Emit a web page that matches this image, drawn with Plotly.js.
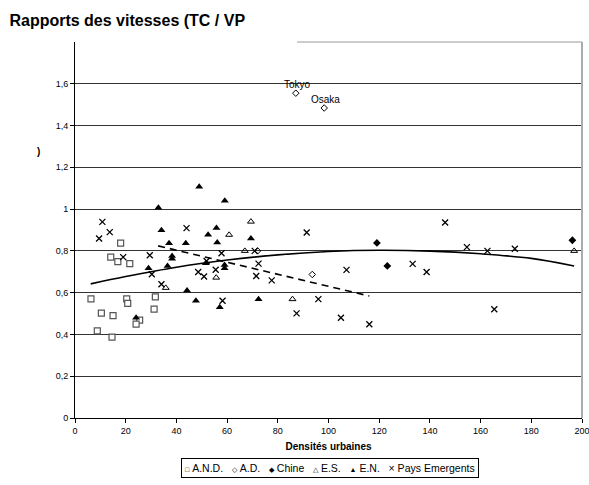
<!DOCTYPE html>
<html><head><meta charset="utf-8">
<script src="https://cdn.plot.ly/plotly-3.0.1.min.js"></script>
<style>html,body{margin:0;padding:0;background:#fff}#chart{width:589px;height:485px}</style>
</head><body><div id="chart"></div>
<script>
// A.N.D.
const andX = [6.3, 10.4, 8.8, 15.0, 14.6, 20.4, 20.8, 25.5, 24.1, 31.7, 31.2, 18.0, 14.1, 16.9, 21.6];
const andY = [0.570, 0.502, 0.417, 0.490, 0.387, 0.570, 0.549, 0.469, 0.449, 0.580, 0.521, 0.837, 0.770, 0.749, 0.739];
// A.D.
const adX = [87.1, 98.3, 93.6, 72.0];
const adY = [1.555, 1.484, 0.687, 0.800];
const adLabels = ["Tokyo", "Osaka", "", ""];
// Chine
const chX = [119.1, 123.2, 196.2];
const chY = [0.838, 0.728, 0.851];
// E.S.
const esX = [35.8, 69.4, 60.8, 67.0, 55.7, 85.8, 196.9];
const esY = [0.623, 0.940, 0.877, 0.800, 0.672, 0.569, 0.800];
// E.N.
const enX = [32.9, 34.1, 37.1, 43.7, 38.3, 38.3, 29.0, 36.5, 49.0, 59.1, 55.8, 52.5, 69.4, 56.1, 51.6, 59.0, 59.0, 24.1, 44.2, 47.7, 57.1, 72.4];
const enY = [1.007, 0.899, 0.837, 0.837, 0.775, 0.762, 0.717, 0.728, 1.107, 1.040, 0.909, 0.877, 0.859, 0.840, 0.741, 0.733, 0.717, 0.480, 0.610, 0.561, 0.530, 0.569];
// Pays Emergents
const peX = [10.8, 9.5, 13.7, 19.0, 29.5, 30.3, 44.0, 34.1, 48.6, 51.9, 50.9, 55.5, 57.8, 70.9, 72.4, 71.5, 77.6, 58.2, 87.4, 96.0, 91.4, 107.1, 104.9, 116.1, 133.2, 138.7, 146.0, 154.6, 162.7, 173.5, 165.4];
const peY = [0.939, 0.859, 0.890, 0.770, 0.779, 0.688, 0.909, 0.640, 0.699, 0.752, 0.677, 0.710, 0.789, 0.800, 0.739, 0.680, 0.659, 0.561, 0.501, 0.569, 0.888, 0.709, 0.480, 0.449, 0.738, 0.699, 0.936, 0.818, 0.800, 0.810, 0.521];
// trend lines
const trendX = [6.2, 20, 40, 60, 80, 100, 120, 140, 160, 180, 196.9];
const trendY = [0.642, 0.677, 0.722, 0.756, 0.781, 0.797, 0.803, 0.799, 0.786, 0.764, 0.728];
const dashX = [32.8, 116.1];
const dashY = [0.824, 0.584];
// ticks
const xTicks = [0, 20, 40, 60, 80, 100, 120, 140, 160, 180, 200];
const yTicks = [0, 0.2, 0.4, 0.6, 0.8, 1, 1.2, 1.4, 1.6];
const yTickText = ["0", "0,2", "0,4", "0,6", "0,8", "1", "1,2", "1,4", "1,6"];
const legendNames = ["A.N.D.", "A.D.", "Chine", "E.S.", "E.N.", "Pays Emergents"];
const legendGlyphs = ["□", "◇", "◆", "△", "▲", "×"];

const F = "Liberation Sans, Arial, sans-serif";
const traces = [
  {x: trendX, y: trendY, mode: 'lines', line: {color: '#000', width: 1.6, shape: 'spline'}, name: 'trend', hoverinfo: 'skip'},
  {x: dashX, y: dashY, mode: 'lines', line: {color: '#000', width: 1.6, dash: '7px,5px'}, name: 'trend2', hoverinfo: 'skip'},
  {x: andX, y: andY, mode: 'markers', name: legendNames[0], marker: {symbol: 'square', size: 6, color: '#fff', line: {color: '#555', width: 1.2}}},
  {x: adX, y: adY, mode: 'markers', name: legendNames[1], marker: {symbol: 'diamond-open', size: 5, color: '#000', line: {width: 1}}},
  {x: chX, y: chY, mode: 'markers', name: legendNames[2], marker: {symbol: 'diamond', size: 6, color: '#000'}},
  {x: esX, y: esY, mode: 'markers', name: legendNames[3], marker: {symbol: 'triangle-up-open', size: 6, color: '#000', line: {width: 1}}},
  {x: enX, y: enY, mode: 'markers', name: legendNames[4], marker: {symbol: 'triangle-up', size: 7, color: '#000'}},
  {x: peX, y: peY, mode: 'markers', name: legendNames[5], marker: {symbol: 'x-thin-open', size: 6, color: '#000', line: {color: '#000', width: 1.3}}}
];

const legendText = legendNames.map((n, i) =>
  (i === 5 ? legendGlyphs[i] : '<span style="font-size:7px">' + legendGlyphs[i] + '</span>') + '&nbsp;' + n
).join('&nbsp;&nbsp;&nbsp;');

const annotations = [
  {text: adLabels[0], x: adX[0], y: adY[0], xref: 'x', yref: 'y', showarrow: false, yshift: 9, xshift: 2, font: {family: F, size: 10, color: '#000'}},
  {text: adLabels[1], x: adX[1], y: adY[1], xref: 'x', yref: 'y', showarrow: false, yshift: 9, xshift: 1, font: {family: F, size: 10, color: '#000'}},
  {text: ')', xref: 'paper', yref: 'paper', x: -0.078, y: 0.73, showarrow: false, font: {family: F, size: 10, color: '#000', weight: 'bold'}},
  {text: legendText,
   xref: 'paper', yref: 'paper', x: 0.503, y: -0.133, xanchor: 'center', yanchor: 'middle', showarrow: false,
   bordercolor: '#000', borderwidth: 1, borderpad: 3, bgcolor: '#fff', font: {family: F, size: 10.5, color: '#000'}}
];

const layout = {
  width: 589, height: 485,
  margin: {l: 75, r: 7, t: 42, b: 67},
  paper_bgcolor: '#fff', plot_bgcolor: '#fff',
  showlegend: false,
  title: {text: '<b>Rapports des vitesses (TC / VP</b>', x: 0.016, xanchor: 'left', y: 0.958, yanchor: 'middle', font: {family: F, size: 16, color: '#000'}},
  xaxis: {range: [0, 200], tickvals: xTicks, ticktext: xTicks.map(String), ticks: 'outside', ticklen: 4, tickcolor: '#000',
    showline: true, linecolor: '#000', linewidth: 1, showgrid: false, zeroline: false, mirror: false,
    ticklabeloverflow: 'allow',
    tickfont: {family: F, size: 9, color: '#000'},
    title: {text: '<b>Densités urbaines</b>', font: {family: F, size: 10, color: '#000'}, standoff: 8}},
  yaxis: {range: [0, 1.8], tickvals: yTicks, ticktext: yTickText, ticks: 'outside', ticklen: 4, tickcolor: '#000',
    showline: true, linecolor: '#000', linewidth: 1, showgrid: true, gridcolor: '#333', gridwidth: 1, zeroline: false,
    tickfont: {family: F, size: 9, color: '#000'}},
  shapes: [
    {type: 'line', xref: 'paper', yref: 'paper', x0: 0.438, x1: 1, y0: 1, y1: 1, line: {color: '#999', width: 1}},
    {type: 'line', xref: 'paper', yref: 'paper', x0: 1, x1: 1, y0: 0, y1: 1, line: {color: '#aaa', width: 2}}
  ],
  annotations: annotations
};
Plotly.newPlot('chart', traces, layout, {displayModeBar: false, staticPlot: true});
</script></body></html>
